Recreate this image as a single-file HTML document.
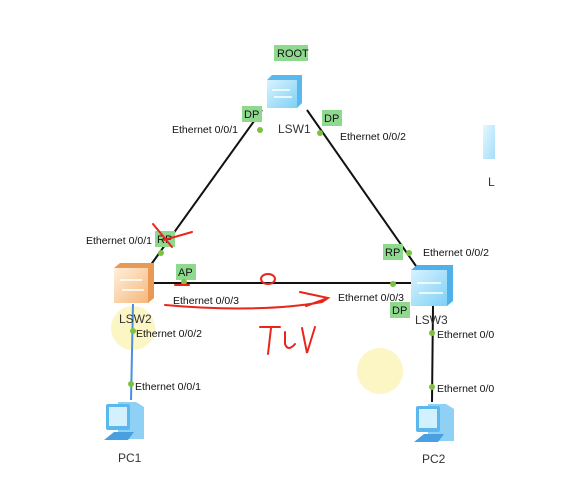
<!DOCTYPE html>
<html><head><style>
html,body{margin:0;padding:0;background:#fff;}
svg{display:block;font-family:"Liberation Sans",sans-serif;}
.t{font-size:10.5px;fill:#111;}
.l{font-size:12px;fill:#333;}
.b{font-size:11px;fill:#111;}
</style></head><body>
<svg width="572" height="501" viewBox="0 0 572 501">
<defs>
<linearGradient id="bl" x1="0" y1="0" x2="1" y2="1"><stop offset="0" stop-color="#d8f3ff"/><stop offset="1" stop-color="#7fd0f5"/></linearGradient>
<linearGradient id="or" x1="0" y1="0" x2="1" y2="1"><stop offset="0" stop-color="#fff0dc"/><stop offset="1" stop-color="#f5b77a"/></linearGradient>
<clipPath id="cp"><rect x="0" y="0" width="494" height="501"/></clipPath>
</defs>
<circle cx="133" cy="328" r="22" fill="#fbf2b5" opacity="0.8"/>
<circle cx="380" cy="371" r="23" fill="#fbf2b5" opacity="0.8"/>
<g stroke="#111" stroke-width="2">
<line x1="262" y1="110" x2="150" y2="266"/>
<line x1="307" y1="110" x2="416" y2="266"/>
<line x1="150" y1="283" x2="411" y2="283"/>
<line x1="433" y1="306" x2="432" y2="402"/>
</g>
<line x1="133" y1="304" x2="131" y2="400" stroke="#4a90e2" stroke-width="2"/>
<!-- switches -->
<g>
<path d="M267 80 l5 -5 h30 v28 l-5 5 h-30z" fill="#5ab8ee"/>
<rect x="267" y="80" width="30" height="28" fill="url(#bl)"/>
<path d="M272 90 h18 M274 97 h18" stroke="#fff" stroke-width="1.5"/>
</g>
<g>
<path d="M114 268 l6 -5 h34 v35 l-6 5 h-34z" fill="#e89a55"/>
<rect x="114" y="268" width="34" height="35" fill="url(#or)"/>
<path d="M120 280 h22 M122 290 h22" stroke="#fff" stroke-width="1.5"/>
</g>
<g>
<path d="M411 270 l6 -5 h36 v36 l-6 5 h-36z" fill="#4fb0ea"/>
<rect x="411" y="270" width="36" height="36" fill="url(#bl)"/>
<path d="M417 283 h24 M419 293 h24" stroke="#fff" stroke-width="1.5"/>
</g>
<g opacity="0.7"><rect x="483" y="125" width="12" height="34" fill="url(#bl)"/></g>
<text x="488" y="186" class="l" fill="#000">L</text>
<!-- PCs -->
<g>
<path d="M118 402 h18 l8 5 v32 h-26z" fill="#8fd0f5"/>
<rect x="106" y="404" width="24" height="26" rx="2" fill="#5ab8ee"/>
<rect x="109" y="407" width="18" height="19" fill="#d3f0ff"/>
<path d="M104 440 l10 -8 h20 l-6 8z" fill="#4a9fe0"/>
</g>
<g>
<path d="M428 404 h18 l8 5 v32 h-26z" fill="#8fd0f5"/>
<rect x="416" y="406" width="24" height="26" rx="2" fill="#5ab8ee"/>
<rect x="419" y="409" width="18" height="19" fill="#d3f0ff"/>
<path d="M414 442 l10 -8 h20 l-6 8z" fill="#4a9fe0"/>
</g>
<!-- labels boxes -->
<g fill="#8fd98f">
<rect x="274" y="45" width="34" height="16"/>
<rect x="242" y="106" width="20" height="16"/>
<rect x="322" y="110" width="20" height="16"/>
<rect x="155" y="231" width="20" height="16"/>
<rect x="176" y="264" width="20" height="16"/>
<rect x="383" y="244" width="20" height="16"/>
<rect x="390" y="302" width="20" height="16"/>
</g>
<g class="b">
<text x="277" y="57">ROOT</text>
<text x="244" y="118">DP</text>
<text x="324" y="122">DP</text>
<text x="157" y="243">RP</text>
<text x="178" y="276">AP</text>
<text x="385" y="256">RP</text>
<text x="392" y="314">DP</text>
</g>
<g fill="#7cc242">
<circle cx="260" cy="130" r="3"/><circle cx="320" cy="133" r="3"/>
<circle cx="161" cy="253" r="3"/><circle cx="184" cy="282" r="3"/>
<circle cx="393" cy="284" r="3"/><circle cx="409" cy="253" r="3"/>
<circle cx="133" cy="331" r="3"/><circle cx="131" cy="384" r="3"/>
<circle cx="432" cy="333" r="3"/><circle cx="432" cy="387" r="3"/>
</g>
<g class="t" clip-path="url(#cp)">
<text x="172" y="133">Ethernet 0/0/1</text>
<text x="340" y="140">Ethernet 0/0/2</text>
<text x="86" y="244">Ethernet 0/0/1</text>
<text x="173" y="304">Ethernet 0/0/3</text>
<text x="338" y="301">Ethernet 0/0/3</text>
<text x="423" y="256">Ethernet 0/0/2</text>
<text x="136" y="337">Ethernet 0/0/2</text>
<text x="135" y="390">Ethernet 0/0/1</text>
<text x="437" y="338">Ethernet 0/0/2</text>
<text x="437" y="392">Ethernet 0/0/1</text>
</g>
<g class="l">
<text x="278" y="133">LSW1</text>
<text x="119" y="323">LSW2</text>
<text x="415" y="324">LSW3</text>
<text x="118" y="462">PC1</text>
<text x="422" y="463">PC2</text>
</g>
<!-- red annotations -->
<g stroke="#e8261c" stroke-width="2" fill="none" stroke-linecap="round">
<path d="M153 224 L172 247"/><path d="M164 240 L192 232"/>
<path d="M175 285 h14"/>
<ellipse cx="268" cy="279" rx="7" ry="5"/>
<path d="M165 305 C220 310 280 310 322 302 L328 298 L300 292 M328 298 L306 306"/>
<path d="M260 327 h20 M271 328 l-3 26 M285 332 v12 q3 8 10 0 M302 328 l5 25 l8 -26"/>
</g>
</svg>
</body></html>
